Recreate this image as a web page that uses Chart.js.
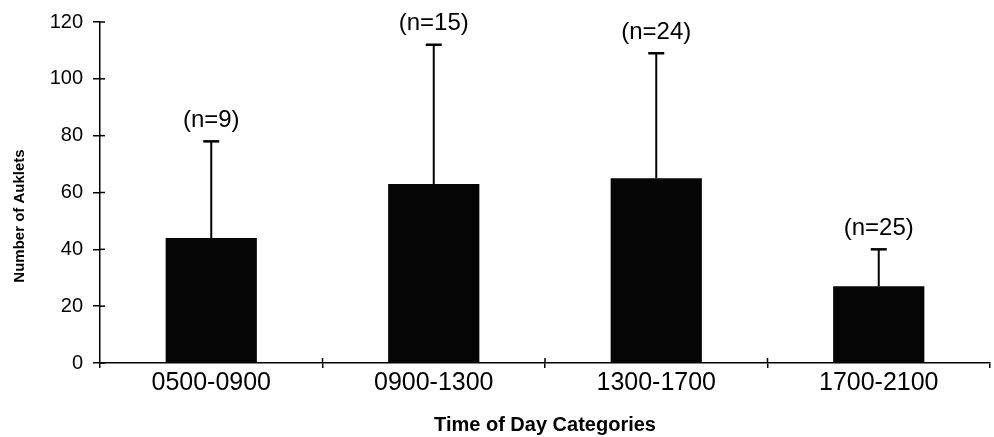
<!DOCTYPE html>
<html>
<head>
<meta charset="utf-8">
<script src="https://cdn.jsdelivr.net/npm/chart.js@4"></script>
<style>
  html, body { margin: 0; padding: 0; background: #fff; }
  #wrap { width: 994px; height: 437px; }
</style>
</head>
<body>
<div id="wrap"><canvas id="auklets" width="994" height="437"></canvas></div>
<script>
// data
var timeCategories = ['0500-0900', '0900-1300', '1300-1700', '1700-2100'];
var meanAuklets = [44, 63, 65, 27];
var errorUpper = [78, 112, 109, 40];   // top of the error bar
var sampleSizes = [9, 15, 24, 25];
var yTicks = [0, 20, 40, 60, 80, 100, 120];

var FONT = "'Liberation Sans', Arial, sans-serif";

// error bars, (n=..) labels, crossing tick stubs and y title
var errorBarsAndLabels = {
  id: 'errorBarsAndLabels',
  afterDatasetsDraw(chart) {
    const {ctx, chartArea: {left, bottom, top}, scales: {x, y}} = chart;
    const meta = chart.getDatasetMeta(0);
    ctx.save();
    ctx.strokeStyle = '#000';
    ctx.fillStyle = '#000';

    meta.data.forEach(function (bar, i) {
      const yTop = y.getPixelForValue(errorUpper[i]);
      const yBar = y.getPixelForValue(meanAuklets[i]);
      ctx.lineWidth = 2;
      ctx.beginPath();
      ctx.moveTo(bar.x, yBar);
      ctx.lineTo(bar.x, yTop);
      ctx.stroke();
      ctx.lineWidth = 2.5;
      ctx.beginPath();
      ctx.moveTo(bar.x - 8, yTop);
      ctx.lineTo(bar.x + 8, yTop);
      ctx.stroke();

      ctx.font = '24px ' + FONT;
      ctx.textAlign = 'center';
      ctx.textBaseline = 'middle';
      ctx.fillText('(n=' + sampleSizes[i] + ')', bar.x, yTop - 21);
    });

    // inner halves of the tick marks, which cross the axes
    ctx.lineWidth = 1.5;
    yTicks.forEach(function (v) {
      const py = y.getPixelForValue(v);
      ctx.beginPath();
      ctx.moveTo(left, py);
      ctx.lineTo(left + 5, py);
      ctx.stroke();
    });
    for (let i = 1; i < timeCategories.length; i++) {
      const px = (x.getPixelForValue(i - 1) + x.getPixelForValue(i)) / 2;
      ctx.beginPath();
      ctx.moveTo(px, bottom);
      ctx.lineTo(px, bottom - 5);
      ctx.stroke();
    }

    // y axis title
    ctx.font = 'bold 15px ' + FONT;
    ctx.translate(20, 216);
    ctx.rotate(-Math.PI / 2);
    ctx.textAlign = 'center';
    ctx.textBaseline = 'middle';
    ctx.fillText('Number of Auklets', 0, 0);
    ctx.restore();
  }
};

var ctx = document.getElementById('auklets').getContext('2d');
var aukletChart = new Chart(ctx, {
  type: 'bar',
  data: {
    labels: timeCategories,
    datasets: [{
      data: meanAuklets,
      backgroundColor: '#050505',
      borderWidth: 0,
      categoryPercentage: 1,
      barPercentage: 0.41
    }]
  },
  options: {
    responsive: false,
    animation: false,
    layout: {
      padding: { top: 19, right: 4, left: 0, bottom: 0 }
    },
    plugins: {
      legend: { display: false },
      tooltip: { enabled: false }
    },
    scales: {
      x: {
        afterFit(scale) { scale.height = 74; },
        grid: {
          display: true,
          drawOnChartArea: false,
          offset: true,
          tickLength: 5,
          color: '#000',
          lineWidth: 1.5
        },
        border: { display: true, color: '#000', width: 1.5 },
        ticks: {
          color: '#000',
          padding: 0,
          maxRotation: 0,
          font: { family: FONT, size: 25 }
        },
        title: {
          display: true,
          text: 'Time of Day Categories',
          color: '#000',
          padding: { top: 5, bottom: 0 },
          font: { family: FONT, size: 20, weight: 'bold' }
        }
      },
      y: {
        min: 0,
        max: 120,
        afterFit(scale) { scale.width = 100; },
        afterBuildTicks(scale) {
          scale.ticks = yTicks.map(function (v) { return { value: v }; });
        },
        grid: {
          display: true,
          drawOnChartArea: false,
          tickLength: 7,
          color: '#000',
          lineWidth: 1.5
        },
        border: { display: true, color: '#000', width: 1.5 },
        ticks: {
          color: '#000',
          padding: 10,
          font: { family: FONT, size: 20 }
        }
      }
    }
  },
  plugins: [errorBarsAndLabels]
});
</script>
</body>
</html>
